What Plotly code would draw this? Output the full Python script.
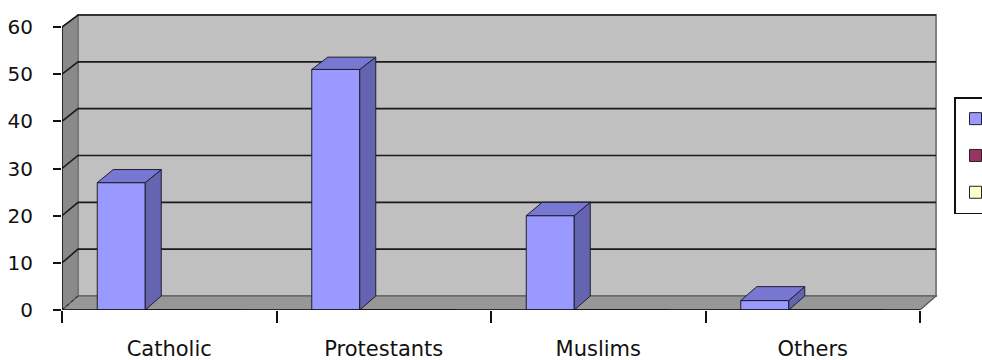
import plotly.graph_objects as go

# ---------------- data ----------------
categories = ["Catholic", "Protestants", "Muslims", "Others"]
series_names = ["Series1", "Series2", "Series3"]
series1 = [27, 51, 20, 2]
series2 = [0, 0, 0, 0]
series3 = [0, 0, 0, 0]
y_ticks = [0, 10, 20, 30, 40, 50, 60]

# ---------------- geometry / style ----------------
W, H = 982, 360
ML, MT, MB = 62, 10, 50
PX_X = 214.5                 # pixels per category
PLOT_W = 880
PX_Y = 283 / 60.0            # pixels per value unit
PLOT_H = H - MT - MB
XMIN = -0.5
XMAX = len(categories) - 0.5
XR = XMIN + PLOT_W / PX_X
YR = PLOT_H / PX_Y
YTOP = y_ticks[-1]

DX = 16 / PX_X               # depth offset in x units


def dy(v):                   # depth offset in y units (slight perspective)
    return (14 - 2.0 * v / YTOP) / PX_Y


GROUP = 0.6713
BW = GROUP / 3

FRONT = ["#9999FF", "#993366", "#FFFFCC"]
SIDE = "#6464B0"
TOP = "#7878D2"
EDGE = "#1e1e2e"
FONT = "DejaVu Sans"
TXT = "#111111"

fig = go.Figure()

# front faces of the columns
for name, vals, col in zip(series_names, [series1, series2, series3], FRONT):
    fig.add_trace(go.Bar(
        x=list(range(len(categories))), y=vals, name=name,
        marker=dict(color=col, line=dict(color="#222222", width=1)),
        legendgroup=name, hoverinfo="skip",
    ))

# side and top faces of series 1 columns
sx, sy, tx, ty = [], [], [], []
for i, v in enumerate(series1):
    l = i - GROUP / 2
    r = l + BW
    sx += [r, r + DX, r + DX, r, r, None]
    sy += [0, dy(0), v + dy(v), v, 0, None]
    tx += [l, l + DX, r + DX, r, l, None]
    ty += [v, v + dy(v), v + dy(v), v, v, None]
fig.add_trace(go.Scatter(x=sx, y=sy, mode="lines", fill="toself", fillcolor=SIDE,
                         line=dict(color=EDGE, width=1), showlegend=False, hoverinfo="skip"))
fig.add_trace(go.Scatter(x=tx, y=ty, mode="lines", fill="toself", fillcolor=TOP,
                         line=dict(color=EDGE, width=1), showlegend=False, hoverinfo="skip"))

# ---------------- walls, floor, grid (shapes) ----------------
shapes = []
bx0, bx1 = XMIN + DX, XMAX + DX
shapes.append(dict(type="path", layer="below", xref="x", yref="y",
                   path=f"M{bx0},{dy(0)} L{bx1},{dy(0)} L{bx1},{YTOP + dy(YTOP)} L{bx0},{YTOP + dy(YTOP)} Z",
                   fillcolor="#C0C0C0", line=dict(color="#808080", width=2)))
shapes.append(dict(type="path", layer="below", xref="x", yref="y",
                   path=f"M{XMIN},0 L{bx0},{dy(0)} L{bx0},{YTOP + dy(YTOP)} L{XMIN},{YTOP} Z",
                   fillcolor="#8A8A8A", line=dict(color="#6a6a6a", width=1)))
shapes.append(dict(type="path", layer="below", xref="x", yref="y",
                   path=f"M{XMIN},0 L{XMAX},0 L{bx1},{dy(0)} L{bx0},{dy(0)} Z",
                   fillcolor="#979797", line=dict(color="#555555", width=1.2)))
for v in y_ticks[1:]:
    shapes.append(dict(type="path", layer="below", xref="x", yref="y",
                       path=f"M{XMIN},{v} L{bx0},{v + dy(v)} L{bx1},{v + dy(v)}",
                       line=dict(color="#1a1a1a", width=1.6)))
shapes.append(dict(type="path", layer="below", xref="x", yref="y",
                   path=f"M{XMIN},0 L{bx0},{dy(0)}",
                   line=dict(color="#333333", width=1.2, dash="dot")))
# front axis lines
shapes.append(dict(type="line", layer="above", xref="x", yref="y",
                   x0=XMIN, y0=0, x1=XMIN, y1=YTOP, line=dict(color="#111111", width=1.5)))
shapes.append(dict(type="line", layer="above", xref="x", yref="y",
                   x0=XMIN, y0=0, x1=XMAX, y1=0, line=dict(color="#111111", width=1.5)))

fig.update_layout(
    width=W, height=H,
    margin=dict(l=ML, r=W - ML - PLOT_W, t=MT, b=MB, autoexpand=False),
    paper_bgcolor="white", plot_bgcolor="white",
    barmode="group", bargap=1 - GROUP, bargroupgap=0,
    shapes=shapes,
    font=dict(family=FONT, color=TXT),
    xaxis=dict(range=[XMIN, XR], tickvals=list(range(len(categories))), ticktext=categories,
               ticks="", showgrid=False, zeroline=False, showline=False, automargin=False,
               tickfont=dict(size=21, family=FONT, color=TXT), ticklabelstandoff=24),
    xaxis2=dict(overlaying="x", anchor="y", side="bottom", range=[XMIN, XR],
                tickvals=[XMIN + k for k in range(len(categories) + 1)],
                ticks="outside", ticklen=12, tickwidth=1.5, tickcolor="#111111",
                showticklabels=False, showgrid=False, zeroline=False, showline=False,
                automargin=False),
    yaxis=dict(range=[0, YR], tickvals=y_ticks, ticks="outside", ticklen=8, tickwidth=1.5,
               tickcolor="#111111", showgrid=False, zeroline=False, showline=False,
               automargin=False,
               tickfont=dict(size=20, family=FONT, color=TXT), ticklabelstandoff=16),
    legend=dict(xref="container", yref="container", x=954 / W, y=1 - 97 / H,
                xanchor="left", yanchor="top", bgcolor="white",
                bordercolor="#111111", borderwidth=1.5,
                font=dict(size=21, family=FONT, color=TXT),
                traceorder="grouped", tracegroupgap=6.5),
    showlegend=True,
)
# dummy trace to activate xaxis2
fig.add_trace(go.Scatter(x=[XMIN], y=[0], xaxis="x2", mode="markers", marker=dict(opacity=0),
                         showlegend=False, hoverinfo="skip"))

fig.write_html("out.html")
